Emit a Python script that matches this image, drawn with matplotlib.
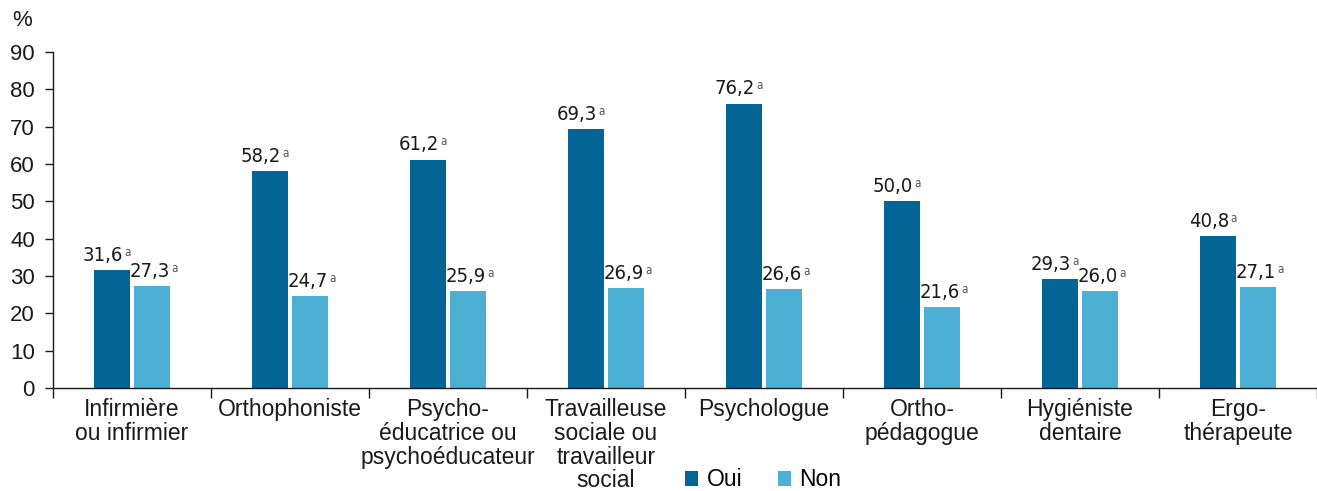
import matplotlib
matplotlib.use("Agg")
import matplotlib.pyplot as plt
import numpy as np
from matplotlib.patches import Patch

# Data
categories = [
    "Infirmière\nou infirmier",
    "Orthophoniste",
    "Psycho-\néducatrice ou\npsychoéducateur",
    "Travailleuse\nsociale ou\ntravailleur\nsocial",
    "Psychologue",
    "Ortho-\npédagogue",
    "Hygiéniste\ndentaire",
    "Ergo-\nthérapeute",
]
oui = [31.6, 58.2, 61.2, 69.3, 76.2, 50.0, 29.3, 40.8]
non = [27.3, 24.7, 25.9, 26.9, 26.6, 21.6, 26.0, 27.1]
series_names = ["Oui", "Non"]
yticks = [0, 10, 20, 30, 40, 50, 60, 70, 80, 90]

DARK = "#036595"
LIGHT = "#4cb0d5"
TEXT = "#1a1a1a"
plt.rcParams["font.family"] = ["Liberation Sans", "DejaVu Sans"]

fig = plt.figure(figsize=(13.17, 4.91), dpi=100)
ax = fig.add_axes([53 / 1317, 103 / 491, 1 - 53 / 1317, 336 / 491])

x = np.arange(len(categories))
w = 0.228
gap = 0.013
b1 = ax.bar(x - w / 2 - gap, oui, width=w, color=DARK)
b2 = ax.bar(x + w / 2 + gap, non, width=w, color=LIGHT)


def fmt(v):
    return f"{v:.1f}".replace(".", ",")


# value labels: condensed number plus a small grey superscript "a"
for bars, vals, dx in ((b1, oui, -6.5), (b2, non, -1.5)):
    for rect, v in zip(bars, vals):
        cx = rect.get_x() + rect.get_width() / 2
        t = ax.annotate(fmt(v), (cx, v), xytext=(dx, 6.5), textcoords="offset points",
                        ha="center", va="baseline", fontsize=14.5, color=TEXT,
                        family="DejaVu Sans", fontstretch="condensed")
        ax.annotate("a", xy=(1, 1), xycoords=t, xytext=(1, 0),
                    textcoords="offset points", ha="left", va="top",
                    fontsize=8.5, color="#555555", family="DejaVu Sans",
                    fontstretch="condensed")

ax.set_xlim(-0.5, len(categories) - 0.5)
ax.set_ylim(0, 90)
ax.set_yticks(yticks)
ax.tick_params(axis="y", labelsize=16, length=6, width=1, colors=TEXT, pad=7)
ax.set_xticks(np.arange(len(categories) + 1) - 0.5)
ax.set_xticklabels([])
ax.tick_params(axis="x", length=7, width=1, colors=TEXT, direction="out")
for i, c in enumerate(categories):
    ax.text(i, -2.8, c, ha="center", va="top", fontsize=16.5, color=TEXT,
            linespacing=1.03)

for s in ("top", "right"):
    ax.spines[s].set_visible(False)
for s in ("left", "bottom"):
    ax.spines[s].set_color(TEXT)
    ax.spines[s].set_linewidth(1)

fig.text(12 / 1317, 1 - 20 / 491, "%", fontsize=16, color=TEXT, va="center", ha="left")

handles = [Patch(facecolor=DARK), Patch(facecolor=LIGHT)]
fig.legend(handles, series_names, loc="center", bbox_to_anchor=(763 / 1317, 1 - 480 / 491),
           ncol=2, frameon=False, fontsize=16.5, handlelength=0.6, handleheight=0.6,
           handletextpad=0.35, columnspacing=1.55, borderaxespad=0, borderpad=0)

fig.savefig("out.png", dpi=100)
